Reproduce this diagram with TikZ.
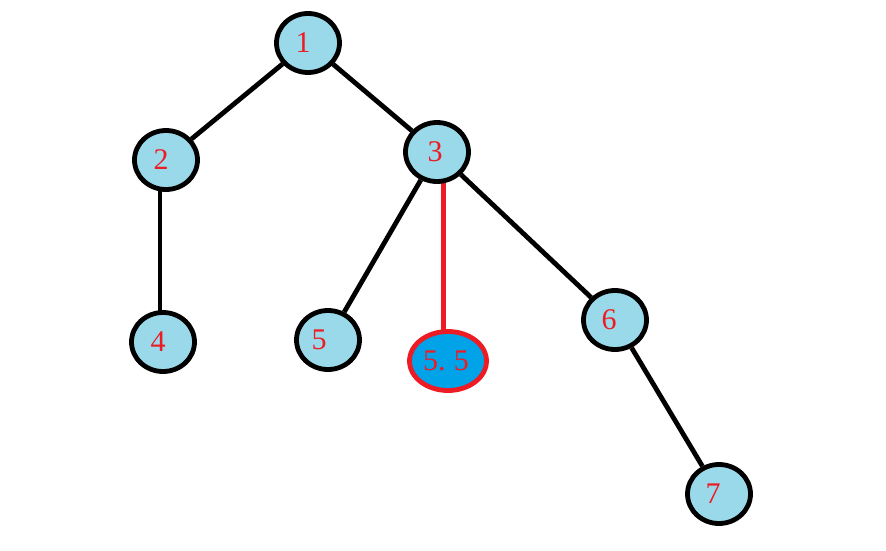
\documentclass[tikz,border=0pt]{standalone}
\usepackage{fontspec}
\setmainfont{Liberation Serif}
\usetikzlibrary{shapes.geometric,backgrounds}
\definecolor{nodeblue}{HTML}{99D9EA}
\definecolor{deepblue}{HTML}{00A2E8}
\definecolor{lblred}{HTML}{ED1C24}
\begin{document}
\begin{tikzpicture}[x=1pt,y=-1pt,
  treenode/.style={ellipse,draw=black,line width=4.8pt,fill=nodeblue,minimum width=63pt,minimum height=59pt,inner sep=0pt,text=lblred,font=\fontsize{30}{34}\selectfont},
  newnode/.style={ellipse,draw=lblred,line width=4.8pt,fill=deepblue,minimum width=77pt,minimum height=59pt,inner sep=0pt,text=lblred,font=\fontsize{30}{34}\selectfont},
  edge/.style={draw=black,line width=4.8pt},
  rededge/.style={draw=lblred,line width=5pt}]
\useasboundingbox (0,0) rectangle (886,551);
\node[treenode] (n1) at (308,43) {\hspace*{-10pt}1};
\node[treenode] (n2) at (166,160) {\hspace*{-10pt}2};
\node[treenode] (n3) at (437,152) {\hspace*{-4pt}3};
\node[treenode] (n4) at (163,342) {\hspace*{-10pt}4};
\node[treenode] (n5) at (328,340) {\hspace*{-18pt}5};
\node[newnode] (n55) at (448,361) {\hspace*{-4pt}5.\;5};
\node[treenode] (n6) at (615,320) {\hspace*{-12pt}6};
\node[treenode] (n7) at (719,494) {\hspace*{-12pt}7};
\coordinate (xr) at (443,0);
\begin{pgfonlayer}{background}
\draw[edge] (n1) -- (n2);
\draw[edge] (n1) -- (n3);
\draw[edge] (n2.center -| 160,0) -- (n4.center -| 160,0);
\draw[edge] (n3) -- (n5);
\draw[edge] (n3) -- (n6);
\draw[edge] (n6) -- (n7);
\draw[rededge] (n3.center -| xr) -- (n55.center -| xr);
\end{pgfonlayer}
\end{tikzpicture}
\end{document}
